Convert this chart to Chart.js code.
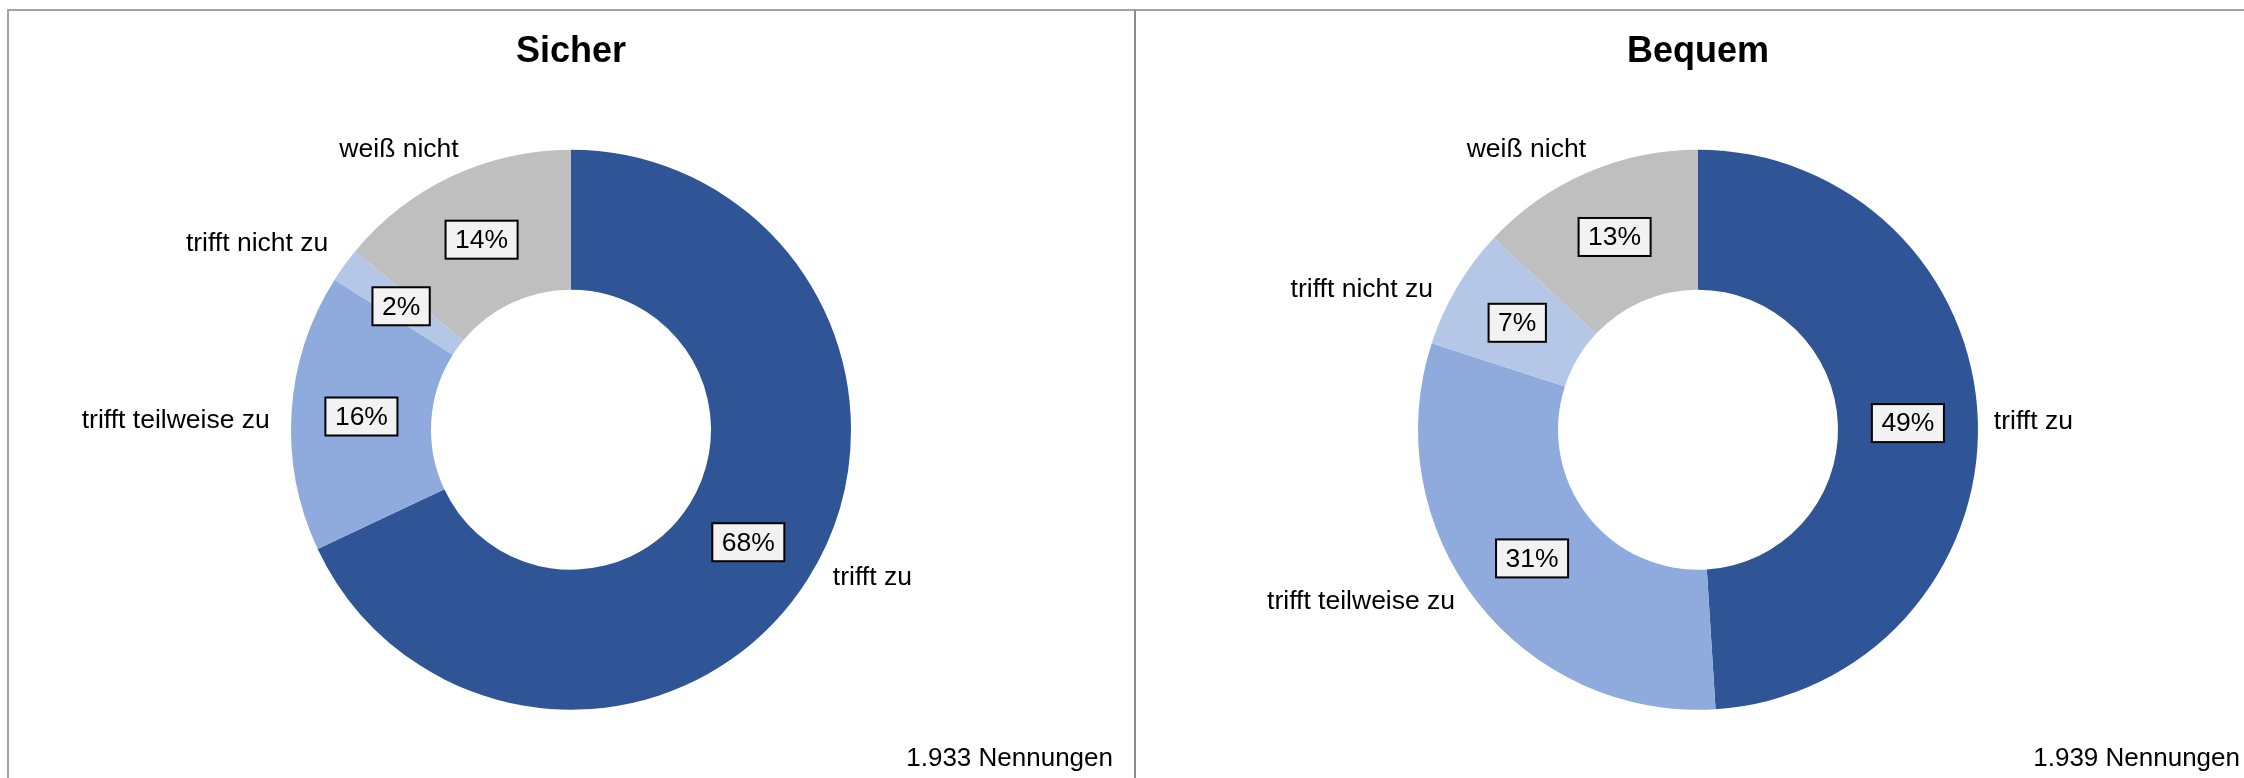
<!DOCTYPE html>
<html>
<head>
<meta charset="utf-8">
<script src="https://cdn.jsdelivr.net/npm/chart.js@4.4.1/dist/chart.umd.min.js"></script>
<style>
  html, body { margin: 0; padding: 0; background: #ffffff; overflow: hidden; width: 2244px; height: 778px; }
  .panel { position: absolute; top: 9px; height: 769px; border-top: 2px solid #a3a3a3; }
  #p1 { left: 7px; width: 1127px; border-left: 2px solid #a3a3a3; }
  #p2 { left: 1134px; width: 1200px; border-left: 2px solid #8c8c8c; }
  canvas { position: absolute; top: 11px; }
  #c1 { left: 9px; }
  #c2 { left: 1136px; }
</style>
</head>
<body>
<div class="panel" id="p1"></div>
<div class="panel" id="p2"></div>
<canvas id="c1" width="1124" height="767"></canvas>
<canvas id="c2" width="1124" height="767"></canvas>
<script>
// ---- data ----
const categories = ['trifft zu', 'trifft teilweise zu', 'trifft nicht zu', 'weiß nicht'];
const sicherValues = [68, 16, 2, 14];
const bequemValues = [49, 31, 7, 13];
const chartTitles = ['Sicher', 'Bequem'];
const footnotes = ['1.933 Nennungen', '1.939 Nennungen'];
const sliceColors = ['#2F5597', '#8FAADC', '#B4C7E7', '#BFBFBF'];

const FONT = "'Liberation Sans', Arial, Helvetica, sans-serif";

// small manual placement tweaks for the outside category labels (as in the original layout)
const sicherLabelNudge = [[13, -22], [0, 11], [-12, 0], [-18, 7]];
const bequemLabelNudge = [[-6, 2], [-24, -22], [-15, 21], [-28, 11]];

const donutLabels = {
  id: 'donutLabels',
  afterDatasetsDraw(chart, args, opts) {
    const ctx = chart.ctx;
    const meta = chart.getDatasetMeta(0);
    const data = chart.data.datasets[0].data;
    const total = data.reduce((a, b) => a + b, 0);
    ctx.save();
    meta.data.forEach((arc, i) => {
      const p = arc.getProps(['x', 'y', 'startAngle', 'endAngle', 'innerRadius', 'outerRadius'], true);
      const mid = (p.startAngle + p.endAngle) / 2;
      const cos = Math.cos(mid), sin = Math.sin(mid);
      // percentage box
      const rMid = (p.innerRadius + p.outerRadius) / 2;
      const bx = p.x + cos * rMid, by = p.y + sin * rMid;
      const txt = Math.round(data[i] / total * 100) + '%';
      ctx.font = '26.5px ' + FONT;
      const tw = ctx.measureText(txt).width;
      const w = tw + 19, h = 38;
      ctx.fillStyle = '#F2F2F2';
      ctx.fillRect(bx - w / 2, by - h / 2, w, h);
      ctx.lineWidth = 2;
      ctx.strokeStyle = '#000000';
      ctx.strokeRect(bx - w / 2, by - h / 2, w, h);
      ctx.fillStyle = '#000000';
      ctx.textAlign = 'center';
      ctx.textBaseline = 'middle';
      ctx.fillText(txt, bx, by + 1);
      // category label outside
      const R = p.outerRadius + 22;
      const px = p.x + cos * R, py = p.y + sin * R;
      const lab = chart.data.labels[i];
      ctx.font = '26.5px ' + FONT;
      const lw = ctx.measureText(lab).width;
      const lh = 30;
      const n = (opts.nudge && opts.nudge[i]) || [0, 0];
      const cx = px + cos * lw / 2 + n[0], cy = py + sin * lh / 2 + n[1];
      ctx.fillText(lab, cx, cy);
    });
    // footnote
    ctx.font = '26px ' + FONT;
    ctx.textAlign = 'right';
    ctx.textBaseline = 'middle';
    ctx.fillStyle = '#000000';
    ctx.fillText(opts.note, chart.width - 20, 748);
    ctx.restore();
  }
};

function makeChart(id, title, values, note, nudge) {
  return new Chart(document.getElementById(id), {
    type: 'doughnut',
    data: {
      labels: categories,
      datasets: [{
        data: values,
        backgroundColor: sliceColors,
        borderWidth: 0,
        hoverOffset: 0
      }]
    },
    options: {
      responsive: false,
      animation: false,
      cutout: '50%',
      layout: { padding: { top: 0, bottom: 68.3, left: 0, right: 0 } },
      plugins: {
        legend: { display: false },
        tooltip: { enabled: false },
        title: {
          display: true,
          text: title,
          color: '#000000',
          font: { family: FONT, size: 36, weight: 'bold', lineHeight: 1.2 },
          padding: { top: 19.4, bottom: 76.1 }
        },
        donutLabels: { note: note, nudge: nudge }
      }
    },
    plugins: [donutLabels]
  });
}

makeChart('c1', chartTitles[0], sicherValues, footnotes[0], sicherLabelNudge);
makeChart('c2', chartTitles[1], bequemValues, footnotes[1], bequemLabelNudge);
</script>
</body>
</html>
